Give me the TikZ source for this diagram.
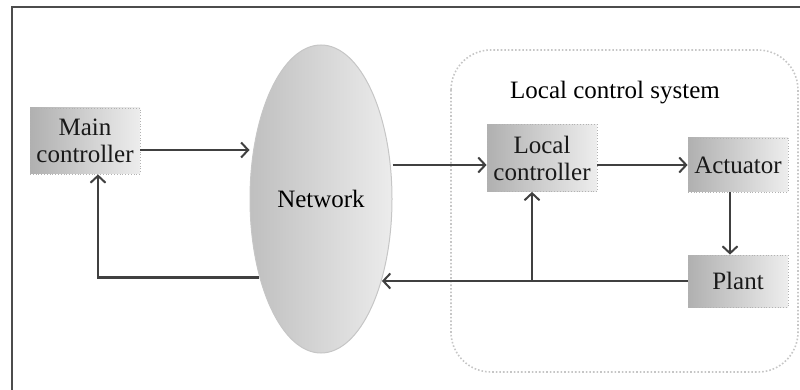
\documentclass[tikz,border=0pt]{standalone}
\usepackage{fontspec}
\setmainfont{Liberation Serif}
\usetikzlibrary{arrows.meta,shapes.geometric}
\tikzset{
  >={Straight Barb[length=7pt,width=15pt,line width=2pt]},
  {box/.style}={rectangle, draw=gray!60, dotted, line width=0.8pt,
                left color=gray!62, right color=gray!14,
                align=center, inner sep=1pt, text=black!90,
                font=\fontsize{25}{27}\selectfont},
  {cloud/.style}={ellipse, draw=gray!45, line width=1pt,
                left color=gray!50, right color=gray!15,
                minimum width=142pt, minimum height=308pt,
                font=\fontsize{25}{28}\selectfont},
  {link/.style}={line width=2.7pt, draw=black!75},
  {region/.style}={draw=gray!45, dotted, line width=1.6pt, rounded corners=40pt},
}
\begin{document}
\begin{tikzpicture}[x=1pt,y=-1pt]
    \useasboundingbox (0,0) rectangle (800,390);
    % outer frame
    \draw[line width=1.5pt, black!70] (12,390) -- (12,7) -- (800,7);
    \draw[region] (451,50) rectangle (798,372);
    \node[font=\fontsize{25}{27}\selectfont] (lcs) at (615,93) {Local control system};

    \node[cloud] (net) at (321,199) {Network};
    \node[box, minimum width=110pt, minimum height=66pt] (main) at (85,141) {Main\\controller};
    \node[box, minimum width=110pt, minimum height=67pt] (local) at (542,158) {Local\\controller};
    \node[box, minimum width=100pt, minimum height=54pt] (act) at (738,165) {Actuator};
    \node[box, minimum width=100pt, minimum height=52pt] (plant) at (738,281) {Plant};
    \coordinate (tap) at (532,281);

    \draw[link,->] (main.east |- 0,150) -- (net.west |- 0,150);
    \draw[link,->] (net.east |- act) -- (local.west |- act);
    \draw[link,->] (local.east |- act) -- (act.west);
    \draw[link,->] ([xshift=-8pt]act.south) -- ([xshift=-8pt]plant.north);
    \draw[link,->] (plant.west) -- (net.-53.5 |- plant.west);
    \draw[link,->] (tap) -- (tap |- local.south);
    \draw[link,->] (net.232) -| ([xshift=13pt]main.south);
\end{tikzpicture}
\end{document}
